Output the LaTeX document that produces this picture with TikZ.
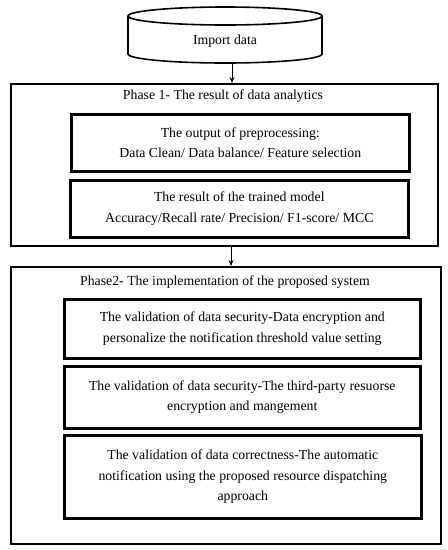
\documentclass[tikz,border=0pt]{standalone}
\usepackage{fontspec}
\setmainfont{Liberation Serif}
\usetikzlibrary{arrows.meta}
\begin{document}
\begin{tikzpicture}[x=1pt,y=1pt,
  txt/.style={font=\fontsize{13.8}{20.5}\selectfont, align=center, inner sep=0pt},
  outerbox/.style={draw, line width=2.3pt, anchor=north west, inner sep=0pt},
  innerbox/.style={draw, line width=2.6pt, anchor=north west, inner sep=0pt, txt},
  arr/.style={-{Stealth[length=6pt,width=5pt]}, line width=0.9pt},
  cyl/.style={line width=1.6pt}]
\useasboundingbox (0,0) rectangle (448,-550);
% cylinder
\draw[cyl] (225,-16) ellipse [x radius=97, y radius=9];
\draw[cyl] (128,-16) -- (128,-54) arc[start angle=180, end angle=360, x radius=97, y radius=9] -- (322,-16);
\node[txt] (imp) at (225,-41) {Import data};
\coordinate (c1) at (232,-63);
% phase 1
\node[outerbox, minimum width=427pt, minimum height=162pt] (p1) at (10,-83) {};
\node[txt] (t1) at (223,-96) {Phase 1- The result of data analytics};
\node[innerbox, minimum width=338pt, minimum height=57pt] (b1) at (70,-113) {The output of preprocessing:\\Data Clean/ Data balance/ Feature selection};
\node[innerbox, minimum width=338pt, minimum height=57pt] (b2) at (69,-179) {The result of the trained model\\Accuracy/Recall rate/ Precision/ F1-score/ MCC};
\coordinate (c2) at (231,-245);
% phase 2
\node[outerbox, minimum width=430pt, minimum height=277pt] (p2) at (10,-266) {};
\node[txt] (t2) at (225,-282) {Phase2- The implementation of the proposed system};
\node[innerbox, minimum width=356pt, minimum height=59pt] (ba) at (63,-298) {The validation of data security-Data encryption and\\personalize the notification threshold value setting};
\node[innerbox, minimum width=356pt, minimum height=62pt] (bb) at (63,-365) {The validation of data security-The third-party resuorse\\encryption and mangement};
\node[innerbox, minimum width=357pt, minimum height=83pt] (bc) at (63,-434) {The validation of data correctness-The automatic\\notification using the proposed resource dispatching\\approach};
% arrows
\draw[arr] (c1) -- (p1.north -| c1);
\draw[arr] (c2) -- (p2.north -| c2);
\end{tikzpicture}
\end{document}
